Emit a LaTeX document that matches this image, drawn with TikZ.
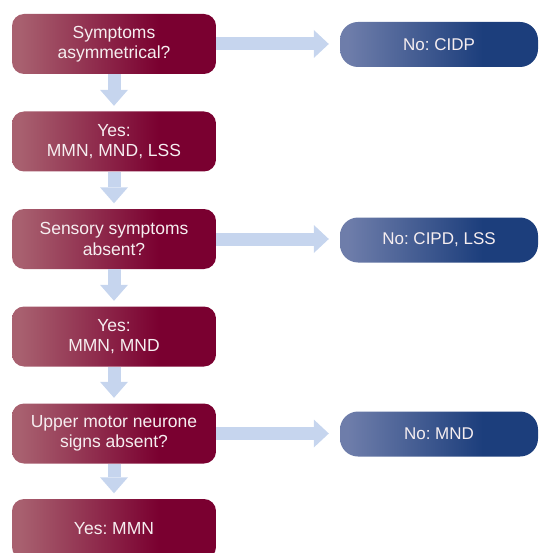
\documentclass[tikz,border=0pt]{standalone}
\usepackage{fontspec}
\setmainfont{Liberation Sans}
\usetikzlibrary{arrows.meta}
\frenchspacing
\definecolor{redL}{HTML}{A8606F}
\definecolor{redD}{HTML}{7A0030}
\definecolor{bluL}{HTML}{6E7DAA}
\definecolor{bluD}{HTML}{1C3E7C}
\definecolor{arrC}{HTML}{C6D5EE}
\definecolor{txtC}{HTML}{F6EEF0}
\pgfdeclarehorizontalshading{redsh}{100bp}{color(0bp)=(redL); color(27bp)=(redL); color(61bp)=(redD); color(100bp)=(redD)}
\pgfdeclarehorizontalshading{blush}{100bp}{color(0bp)=(bluL); color(27bp)=(bluL); color(61bp)=(bluD); color(100bp)=(bluD)}
\tikzset{
  redbox/.style={shading=redsh, rounded corners=12pt, minimum width=204pt, minimum height=60pt,
    inner sep=0pt, align=center, text=txtC, font=\fontsize{17.5}{20.5}\selectfont\frenchspacing},
  bluebox/.style={shading=blush, rounded corners=18pt, minimum width=198pt, minimum height=45pt,
    inner sep=0pt, align=center, text=txtC, font=\fontsize{17}{20.5}\selectfont\frenchspacing},
  harr/.style={draw=arrC, line width=13pt, -{Triangle[width=28pt,length=15pt,line width=0pt]}, shorten >=11pt},
  varr/.style={draw=arrC, line width=13pt, -{Triangle[width=28pt,length=16pt,line width=0pt]}, shorten >=5.5pt},
}
\begin{document}
\begin{tikzpicture}[x=1pt,y=-1pt]
\useasboundingbox (0,0) rectangle (539,553);
\node[redbox] (q1) at (114,44) {Symptoms\\asymmetrical?};
\node[redbox] (y1) at (114,141.5) {Yes:\\MMN, MND, LSS};
\node[redbox] (q2) at (114,239) {Sensory symptoms\\absent?};
\node[redbox] (y2) at (114,336.5) {Yes:\\MMN, MND};
\node[redbox] (q3) at (114,433.5) {Upper motor neurone\\signs absent?};
\node[redbox] (y3) at (114,529) {Yes: MMN};
\node[bluebox] (n1) at (439,44.5) {No: CIDP};
\node[bluebox] (n2) at (439,240) {No: CIPD, LSS};
\node[bluebox] (n3) at (439,434) {No: MND};
\draw[harr] (q1.east) -- (n1.west |- q1.east);
\draw[harr] (q2.east) -- (n2.west |- q2.east);
\draw[harr] (q3.east) -- (n3.west |- q3.east);
\draw[varr] (q1.south) -- (y1.north);
\draw[varr] (y1.south) -- (q2.north);
\draw[varr] (q2.south) -- (y2.north);
\draw[varr] (y2.south) -- (q3.north);
\draw[varr] (q3.south) -- (y3.north);
\end{tikzpicture}
\end{document}
